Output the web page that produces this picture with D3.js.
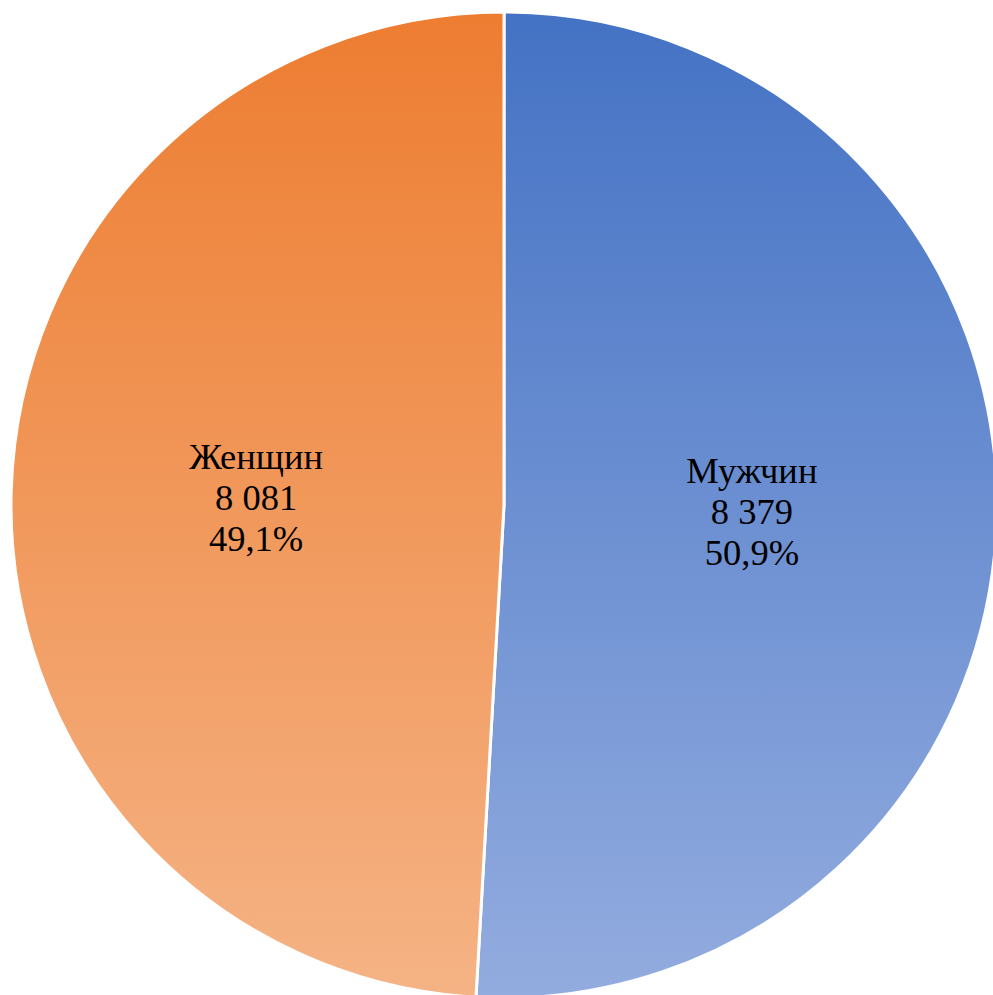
<!DOCTYPE html>
<html>
<head>
<meta charset="utf-8">
<script src="https://cdn.jsdelivr.net/npm/d3@7"></script>
<style>
  html, body { margin: 0; padding: 0; background: #fff; overflow: hidden; }
  text { font-family: "Liberation Serif", "Times New Roman", serif; }
</style>
</head>
<body>
<div id="chart"></div>
<script>
const categories = ["Мужчин", "Женщин"];
const values = [8379, 8081];
const valueLabels = ["8 379", "8 081"];
const percentLabels = ["50,9%", "49,1%"];
const topColors = ["#4472C4", "#ED7D31"];
const bottomColors = ["#93ACDF", "#F5B385"];

const width = 993, height = 995;
const cx = 504, cy = 505, radius = 493;

const svg = d3.select("#chart")
  .append("svg")
  .attr("width", width)
  .attr("height", height);

const defs = svg.append("defs");
categories.forEach((c, i) => {
  const g = defs.append("linearGradient")
    .attr("id", `grad${i}`)
    .attr("gradientUnits", "userSpaceOnUse")
    .attr("x1", 0).attr("x2", 0)
    .attr("y1", -radius).attr("y2", radius);
  g.append("stop").attr("offset", "0%").attr("stop-color", topColors[i]);
  g.append("stop").attr("offset", "100%").attr("stop-color", bottomColors[i]);
});

const data = categories.map((c, i) => ({
  name: c, value: values[i], valueLabel: valueLabels[i], pct: percentLabels[i], i
}));

const pie = d3.pie().sort(null).value((d) => d.value);
const arc = d3.arc().innerRadius(0).outerRadius(radius);
const labelArc = d3.arc().innerRadius(248).outerRadius(248);

const g = svg.append("g").attr("transform", `translate(${cx},${cy})`);

const arcs = pie(data);

g.selectAll("path")
  .data(arcs)
  .enter()
  .append("path")
  .attr("d", arc)
  .attr("fill", (d) => `url(#grad${d.data.i})`)
  .attr("stroke", "#fff")
  .attr("stroke-width", 3)
  .attr("stroke-linejoin", "round");

const labels = g.selectAll(".label")
  .data(arcs)
  .enter()
  .append("text")
  .attr("class", "label")
  .attr("transform", (d) => `translate(${labelArc.centroid(d)})`)
  .attr("text-anchor", "middle")
  .attr("font-size", 36.5)
  .attr("fill", "#000");

labels.each(function (d) {
  const t = d3.select(this);
  const lines = [d.data.name, d.data.valueLabel, d.data.pct];
  lines.forEach((l, k) => {
    t.append("tspan")
      .attr("x", 0)
      .attr("y", (k - 1) * 41 + 12)
      .text(l);
  });
});
</script>
</body>
</html>
